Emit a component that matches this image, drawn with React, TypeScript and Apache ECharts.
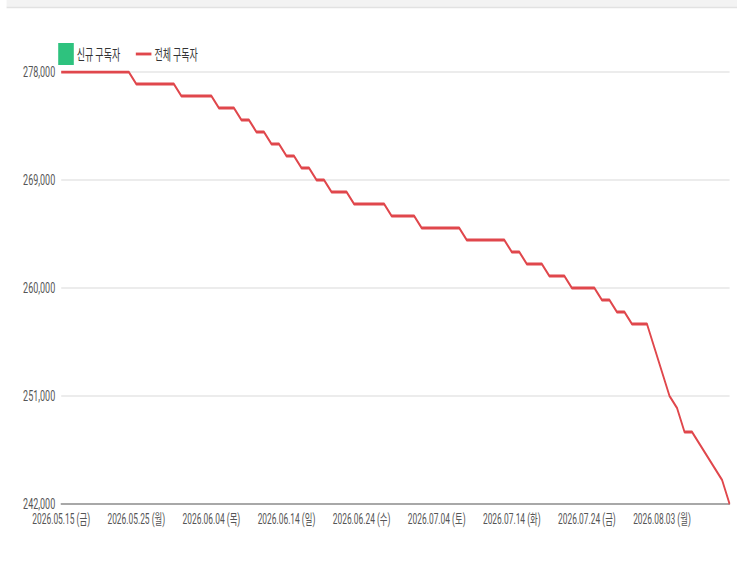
import React, { useEffect, useRef } from "react";
import * as echarts from "echarts";

// ---- data ----
const startDate = "2026-05-15";
const dayCount = 90;
const weekdayNames = ["일", "월", "화", "수", "목", "금", "토"];

const newSubscribers: number[] = [];

const totalSubscribers: number[] = [
  278000, 278000, 278000, 278000, 278000, 278000, 278000, 278000, 278000, 278000,
  277000, 277000, 277000, 277000, 277000, 277000,
  276000, 276000, 276000, 276000, 276000,
  275000, 275000, 275000,
  274000, 274000,
  273000, 273000,
  272000, 272000,
  271000, 271000,
  270000, 270000,
  269000, 269000,
  268000, 268000, 268000,
  267000, 267000, 267000, 267000, 267000,
  266000, 266000, 266000, 266000,
  265000, 265000, 265000, 265000, 265000, 265000,
  264000, 264000, 264000, 264000, 264000, 264000,
  263000, 263000,
  262000, 262000, 262000,
  261000, 261000, 261000,
  260000, 260000, 260000, 260000,
  259000, 259000,
  258000, 258000,
  257000, 257000, 257000,
  255000, 253000, 251000, 250000, 248000, 248000,
  247000, 246000, 245000, 244000, 242000,
];

const yMin = 242000;
const yMax = 278000;
const yStep = 9000;

const seriesNames = ["신규 구독자", "전체 구독자"];

function buildDates(): string[] {
  const out: string[] = [];
  const base = new Date(startDate + "T00:00:00Z");
  for (let i = 0; i < dayCount; i++) {
    const d = new Date(base.getTime() + i * 86400000);
    const y = d.getUTCFullYear();
    const m = String(d.getUTCMonth() + 1).padStart(2, "0");
    const dd = String(d.getUTCDate()).padStart(2, "0");
    out.push(`${y}.${m}.${dd} (${weekdayNames[d.getUTCDay()]})`);
  }
  return out;
}
const dates = buildDates();

// ---- layout ----
const S = 0.6;
const W = 740 / S;
const H = 570;
const FONT = "Roboto, 'Noto Sans CJK KR', sans-serif";

export default function App() {
  const ref = useRef<HTMLDivElement>(null);

  useEffect(() => {
    if (!ref.current) return;
    const chart = echarts.init(ref.current, undefined, { renderer: "svg" });
    chart.setOption({
      animation: false,
      backgroundColor: "#ffffff",
      graphic: [
        {
          type: "rect",
          shape: { x: 11, y: 0, width: W - 16, height: 7 },
          style: { fill: "#f3f3f3" },
          z: 0,
        },
        {
          type: "line",
          shape: { x1: 11, y1: 7.5, x2: W - 5, y2: 7.5 },
          style: { stroke: "#e2e2e2", lineWidth: 1.5 },
        },
      ],
      legend: {
        left: 92,
        top: 38,
        itemWidth: 26,
        itemHeight: 22,
        itemGap: 26,
        textStyle: { fontSize: 15, color: "#333", fontFamily: "'Noto Sans CJK KR', sans-serif" },
        data: [
          { name: seriesNames[0], icon: "rect" },
          { name: seriesNames[1], icon: "path://M0,0 L10,0 L10,1.1 L0,1.1 Z" },
        ],
      },
      grid: { left: 102, right: 17, top: 72, bottom: 66 },
      xAxis: {
        type: "category",
        boundaryGap: false,
        data: dates,
        axisLine: { lineStyle: { color: "#a8a8a8", width: 2 } },
        axisTick: { show: false },
        axisLabel: {
          interval: 9,
          color: "#555",
          fontSize: 14,
          margin: 8,
          fontFamily: FONT,
        },
        splitLine: { show: false },
      },
      yAxis: {
        type: "value",
        min: yMin,
        max: yMax,
        interval: yStep,
        axisLine: { show: false },
        axisTick: { show: false },
        axisLabel: {
          color: "#555",
          fontSize: 15,
          margin: 10,
          fontFamily: FONT,
          formatter: (v: number) => v.toLocaleString("en-US"),
        },
        splitLine: { lineStyle: { color: "#e6e6e6", width: 1.5 } },
      },
      series: [
        {
          name: seriesNames[0],
          type: "bar",
          data: newSubscribers,
          itemStyle: { color: "#2ec27e" },
        },
        {
          name: seriesNames[1],
          type: "line",
          data: totalSubscribers,
          symbol: "none",
          showSymbol: false,
          lineStyle: { color: "#e0474c", width: 2.8 },
          itemStyle: { color: "#e0474c" },
        },
      ],
    });
    return () => chart.dispose();
  }, []);

  return (
    <div
      ref={ref}
      style={{
        position: "fixed",
        left: 0,
        top: 0,
        width: W,
        height: H,
        transform: `scaleX(${S})`,
        transformOrigin: "0 0",
      }}
    />
  );
}
